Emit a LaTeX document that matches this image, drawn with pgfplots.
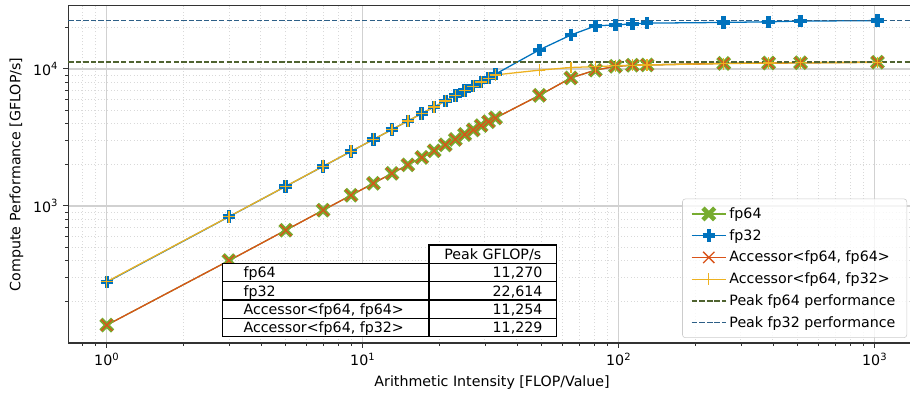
\documentclass[border=0pt]{standalone}
\usepackage{fontspec}
\setmainfont{DejaVu Sans}
\usepackage{pgfplots}
\pgfplotsset{compat=1.18}
\definecolor{cgreen}{HTML}{77AC30}
\definecolor{cblue}{HTML}{0072BD}
\definecolor{corange}{HTML}{D95319}
\definecolor{cyellow}{HTML}{EDB120}
\definecolor{pk64}{HTML}{4F6330}
\definecolor{pk32}{HTML}{2D5F87}
\newcommand{\tp}[1]{10\textsuperscript{#1}}

\pgfplotstableread{
x fp64 fp32 acc64 acc32
1 135 278 135 280
3 399 834 399 836
5 665 1390 665 1392
7 931 1946 931 1950
9 1197 2502 1197 2505
11 1463 3058 1463 3060
13 1729 3614 1729 3615
15 1995 4170 1995 4170
17 2261 4726 2261 4725
19 2527 5282 2527 5280
21 2793 5838 2793 5830
23 3059 6394 3059 6380
25 3325 6950 3325 6930
27 3591 7506 3591 7480
29 3857 8062 3857 8020
31 4123 8618 4123 8560
33 4389 9174 4389 9050
49 6420 13800 6420 9800
65 8600 17700 8600 10250
81 9800 20600 9800 10400
97 10450 21000 10450 10550
113 10650 21300 10650 10650
129 10700 21600 10700 10700
257 10980 21850 10980 10950
385 11050 22100 11050 11050
513 11100 22350 11100 11100
1025 11200 22550 11200 11150
}\datatab

\begin{document}
\begin{tikzpicture}[x=1pt,y=1pt]
\begin{axis}[
  at={(48pt,38.7pt)}, anchor=south west,
  scale only axis, width=596.2pt, height=237.2pt,
  xmode=log, ymode=log,
  xmin=0.707, xmax=1449, ymin=100, ymax=28970,
  xtick={1,10,100,1000},
  xticklabels={\tp{0},\tp{1},\tp{2},\tp{3}},
  minor xtick={0.8,0.9,2,3,4,5,6,7,8,9,20,30,40,50,60,70,80,90,200,300,400,500,600,700,800,900},
  ytick={1000,10000},
  yticklabels={\tp{3},\tp{4}},
  minor ytick={200,300,400,500,600,700,800,900,2000,3000,4000,5000,6000,7000,8000,9000,20000},
  tick align=outside, tick pos=left,
  major tick length=3.5pt, minor tick length=2pt,
  every tick/.style={black!80, line width=0.7pt},
  minor tick style={black!80, line width=0.5pt},
  axis line style={black!80, line width=0.8pt},
  grid=both,
  major grid style={black!18, line width=0.9pt, solid},
  minor grid style={black!15, line width=0.6pt, dash pattern=on 0.7pt off 1.6pt},
  tick label style={font=\fontsize{10}{12}\selectfont},
  label style={font=\fontsize{10}{12}\selectfont},
  xlabel={Arithmetic Intensity [FLOP/Value]},
  ylabel={Compute Performance [GFLOP/s]},
  legend cell align=left,
  legend style={at={(rel axis cs:0.9895,0.0148)}, anchor=south east,
    draw=black!20, rounded corners=2pt, fill=white, fill opacity=0.8, text opacity=1,
    font=\fontsize{10}{12}\selectfont, row sep=2.2pt, inner xsep=6pt, inner ysep=4pt,
    /tikz/every even column/.append style={column sep=3pt}},
  legend image code/.code={\draw[mark repeat=2,mark phase=2] plot coordinates {(0pt,0pt) (12pt,0pt) (24pt,0pt)};},
]
\addplot[cgreen, line width=0.9pt, mark=x, mark size=5.8pt, mark options={line width=3.2pt, solid}] table[x=x, y=fp64] {\datatab};
\addlegendentry{fp64}
\addplot[cblue, line width=0.9pt, mark=+, mark size=4.4pt, mark options={line width=3.2pt, solid}] table[x=x, y=fp32] {\datatab};
\addlegendentry{fp32}
\addplot[corange, line width=0.9pt, mark=x, mark size=5.6pt, mark options={line width=0.9pt, solid}] table[x=x, y=acc64] {\datatab};
\addlegendentry{Accessor<fp64, fp64>}
\addplot[cyellow, line width=0.9pt, mark=+, mark size=4.2pt, mark options={line width=0.9pt, solid}] table[x=x, y=acc32] {\datatab};
\addlegendentry{Accessor<fp64, fp32>}
\addplot[pk64, line width=1pt, dash pattern=on 3.7pt off 1.6pt] coordinates {(0.707,11270) (1449,11270)};
\addlegendentry{Peak fp64 performance}
\addplot[pk32, line width=1pt, dash pattern=on 3.7pt off 1.6pt] coordinates {(0.707,22614) (1449,22614)};
\addlegendentry{Peak fp32 performance}
\end{axis}
% table
\begin{scope}[line width=0.8pt]
\draw[fill=white] (301.7,94.7) rectangle (391.5,107.6);
\draw[fill=white] (156.6,43.1) rectangle (391.5,94.7);
\draw (156.6,81.8) -- (391.5,81.8);
\draw (156.6,68.9) -- (391.5,68.9);
\draw (156.6,56.0) -- (391.5,56.0);
\draw (301.7,43.1) -- (301.7,94.7);
\end{scope}
\begin{scope}[every node/.style={inner sep=0pt, font=\fontsize{10}{12}\selectfont}]
\node[anchor=base] at (346.6,97.5) {Peak GFLOP/s};
\node[anchor=base west] at (171.1,84.6) {fp64};
\node[anchor=base west] at (171.1,71.7) {fp32};
\node[anchor=base west] at (171.1,58.8) {Accessor<fp64, fp64>};
\node[anchor=base west] at (171.1,45.9) {Accessor<fp64, fp32>};
\node[anchor=base east] at (381.7,84.6) {11,270};
\node[anchor=base east] at (381.7,71.7) {22,614};
\node[anchor=base east] at (381.7,58.8) {11,254};
\node[anchor=base east] at (381.7,45.9) {11,229};
\end{scope}
\pgfresetboundingbox
\useasboundingbox (0,0) rectangle (640,279.9);
\end{tikzpicture}
\end{document}
